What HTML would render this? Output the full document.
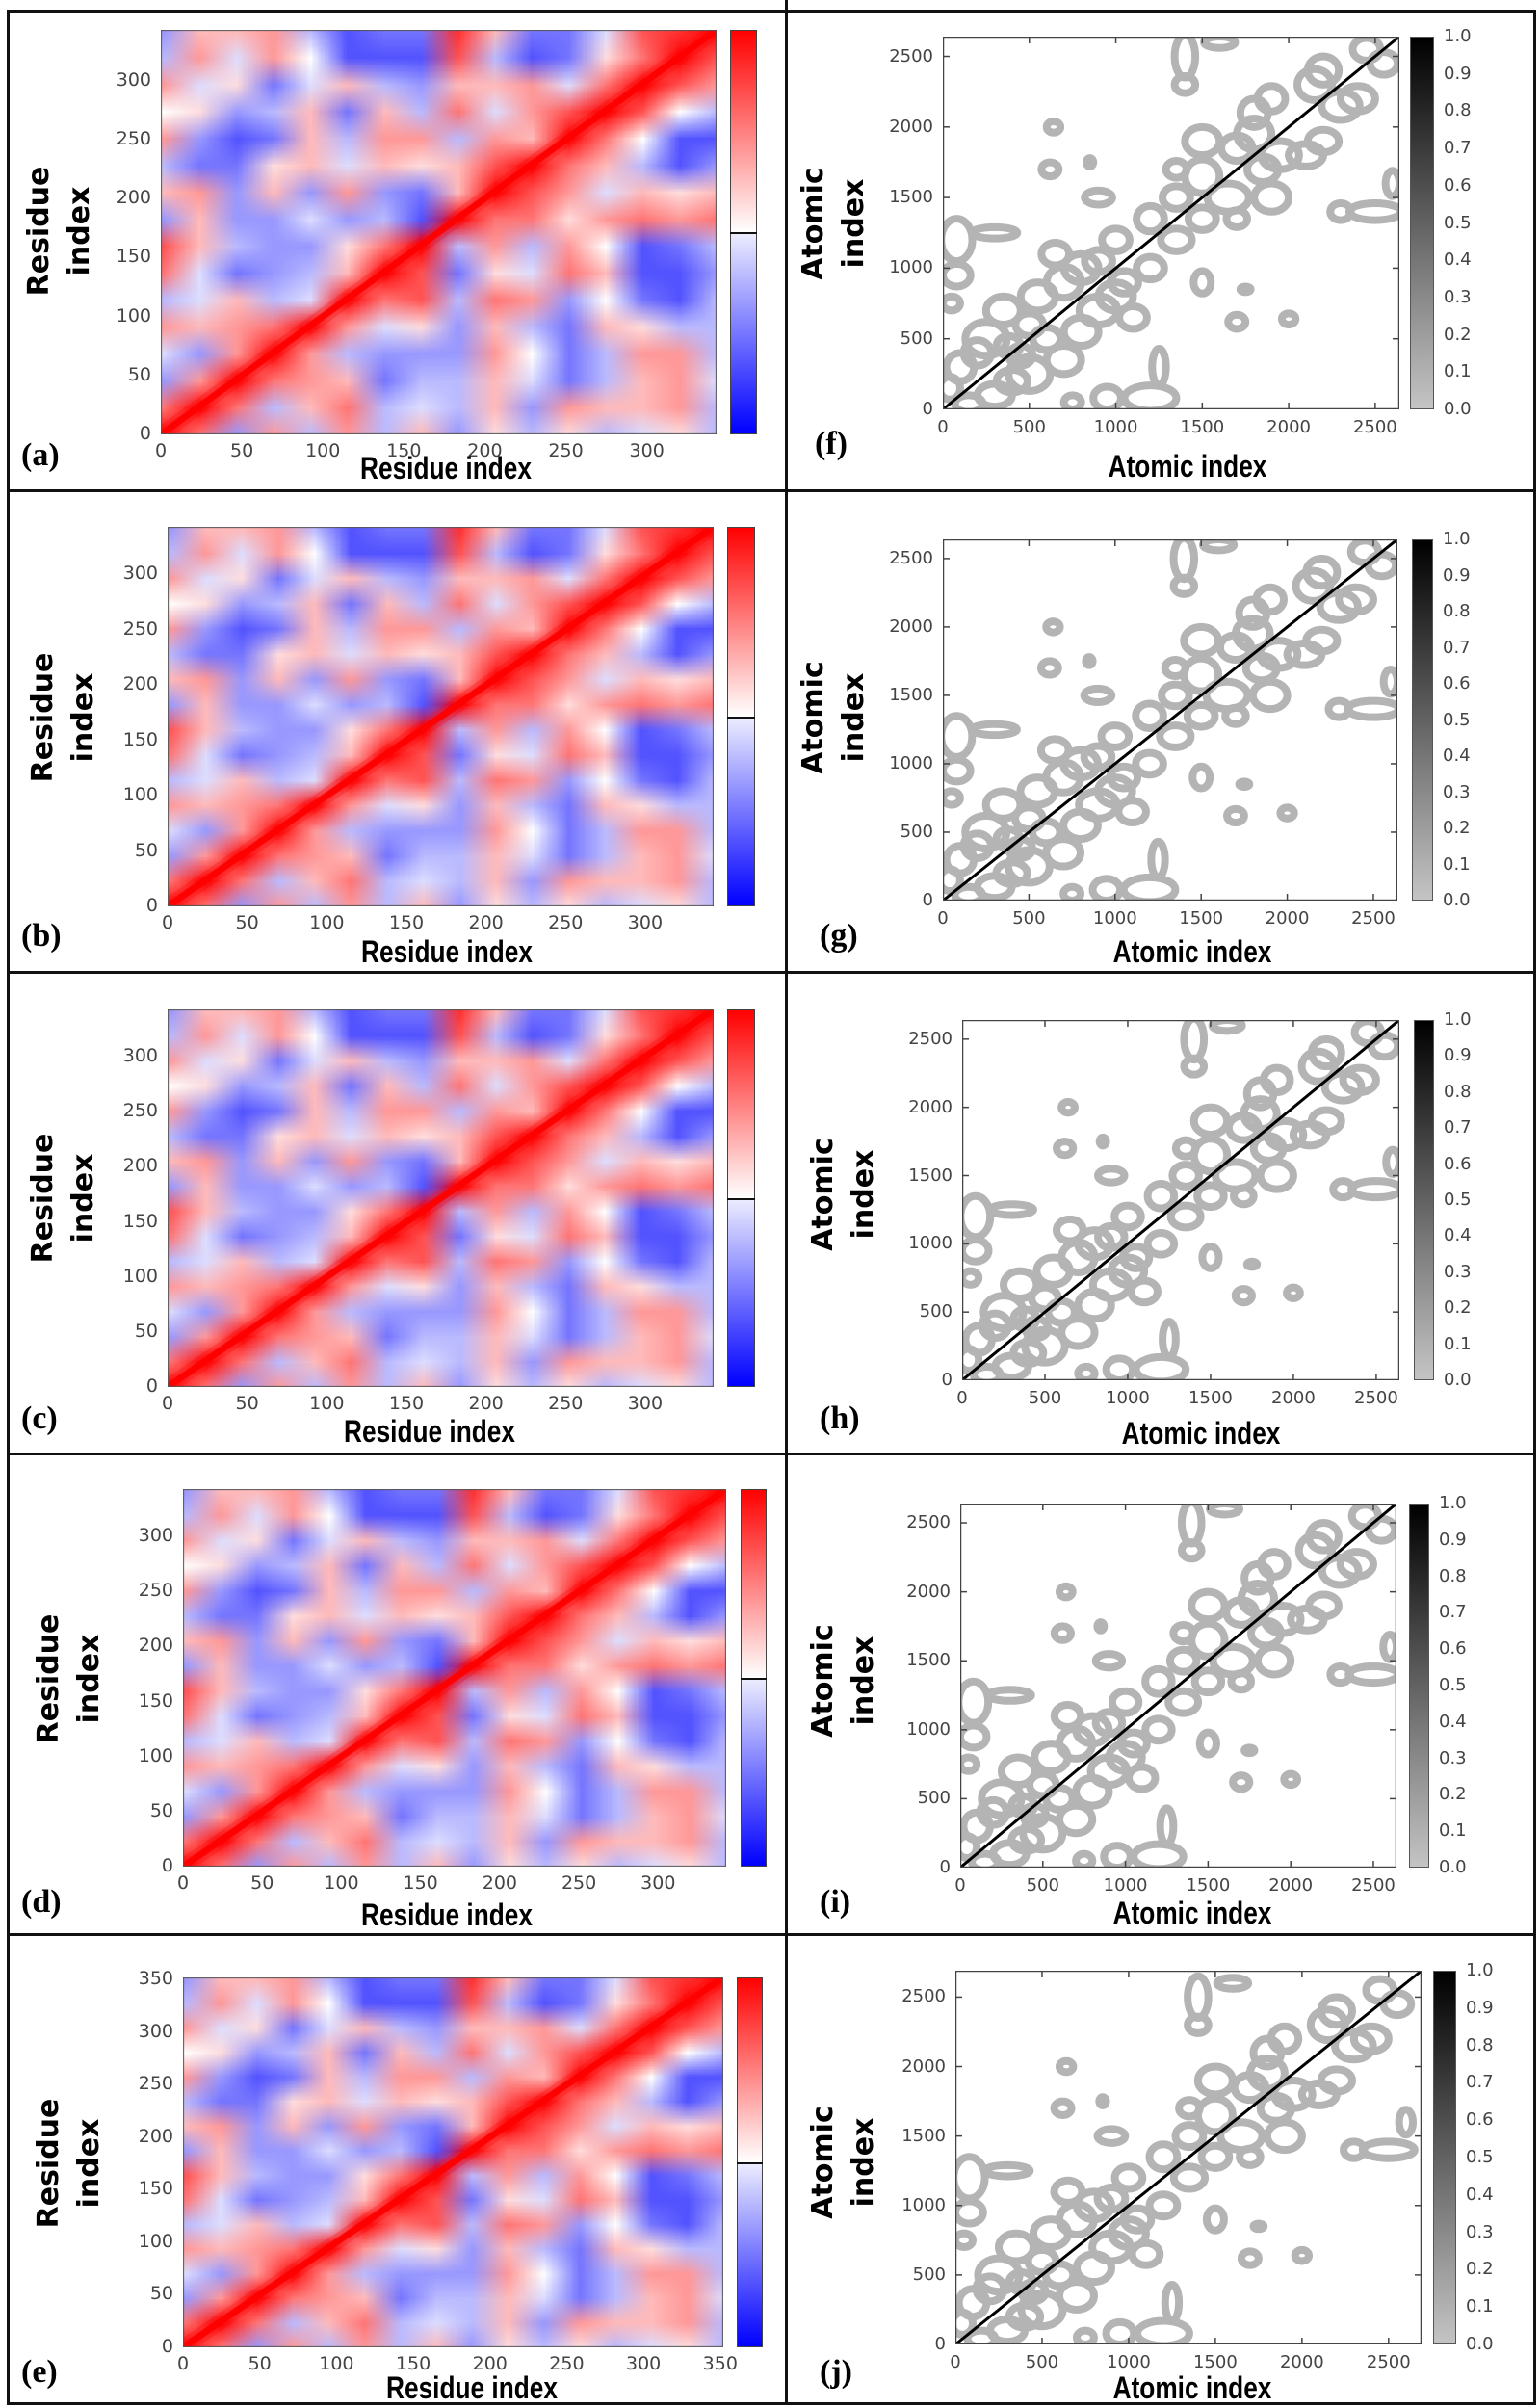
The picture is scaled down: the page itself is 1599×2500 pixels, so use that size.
<!DOCTYPE html>
<html><head><meta charset="utf-8">
<style>
html,body{margin:0;padding:0;background:#fff}
#root{position:relative;width:1599px;height:2500px;overflow:hidden;background:#fff}
.ln{position:absolute;background:#111}
.t{position:absolute;white-space:nowrap}
canvas,svg{position:absolute}
</style></head>
<body>
<div id="root"></div>
<script>
// ===== data =====
// coarse 16x16 cross-correlation map (rows: top = high residue index, cols: left = low residue index)
const corrRows = [
[-0.3,0.2,0.2,0.3,-0.2,-0.5,-0.4,-0.4,0.6,0.2,-0.4,-0.4,-0.1,0.5,0.6,0.9],
[-0.2,0.3,-0.1,0.3,0.0,-0.5,-0.5,-0.5,0.5,-0.2,-0.5,-0.4,0.1,0.4,0.8,0.5],
[0.3,-0.1,0.1,-0.4,-0.1,0.2,-0.2,-0.3,0.2,0.2,0.3,-0.1,0.4,0.8,0.5,0.3],
[0.0,0.1,-0.3,-0.2,0.2,-0.4,0.2,-0.2,0.4,-0.1,0.3,0.5,0.8,0.5,0.0,-0.2],
[0.3,-0.3,-0.5,-0.4,0.2,-0.2,0.3,0.3,-0.2,0.3,0.2,0.8,0.4,0.0,-0.5,-0.5],
[-0.2,-0.4,-0.4,0.1,0.2,-0.1,0.2,0.1,0.2,0.5,0.8,0.4,0.2,-0.2,-0.5,-0.3],
[0.2,0.3,-0.3,0.2,-0.3,0.3,-0.3,-0.4,0.2,0.8,0.5,0.3,-0.1,0.2,0.1,0.2],
[-0.3,0.2,-0.3,-0.3,-0.1,-0.3,-0.2,-0.5,0.8,0.4,0.4,0.1,0.3,0.4,0.3,0.4],
[0.5,0.2,-0.2,-0.3,-0.3,0.1,0.4,0.8,-0.2,0.3,-0.2,0.3,0.0,-0.5,-0.4,-0.2],
[0.4,-0.1,-0.4,-0.3,-0.2,0.2,0.8,0.5,-0.4,0.1,-0.1,0.4,0.2,-0.5,-0.5,-0.3],
[-0.2,-0.1,0.2,-0.2,-0.1,0.8,0.4,0.5,-0.2,0.4,0.3,-0.3,0.0,-0.4,-0.5,-0.2],
[0.3,0.2,0.3,0.4,0.8,0.3,-0.1,0.1,-0.3,0.2,-0.2,-0.4,0.2,0.1,-0.2,-0.2],
[-0.1,-0.3,0.3,0.8,0.3,-0.2,-0.3,-0.3,-0.3,0.3,0.0,-0.4,-0.2,0.3,0.3,-0.2],
[-0.3,0.3,0.8,0.4,0.3,0.2,-0.4,-0.2,-0.2,0.2,-0.1,-0.4,-0.2,0.2,0.3,-0.1],
[0.4,0.8,0.4,-0.2,0.2,0.4,-0.2,-0.1,-0.2,0.2,-0.3,0.3,0.2,0.2,0.3,-0.2],
[0.9,0.4,-0.3,0.3,-0.2,0.3,-0.2,0.2,-0.3,0.1,-0.2,0.1,-0.2,-0.1,0.1,-0.2]
];
const residueTicks = [0,50,100,150,200,250,300];
const residueTicksE = [0,50,100,150,200,250,300,350];
// contact blobs (x atom, y atom, rx, ry) on one side of the diagonal; mirrored
const blobX  = [1200,950,750,1250,300,500,700,800,600,1000,1200,1100,1500,1700,1900,2100,2200,2300,2500,2600,2400,2550,1500,1700,2000,1750,150,400,900,1350,1650,1950,2300,450,1050,1850];
const blobY  = [80,80,50,300,100,250,350,550,500,800,1000,650,1350,1350,1500,1800,1900,1400,1400,1600,2200,2450,900,620,640,850,40,200,700,1200,1500,1800,2150,380,900,1700];
const blobRX = [150,80,50,40,100,120,100,100,80,100,80,80,80,60,100,100,90,60,150,40,100,80,50,50,40,30,80,90,110,90,120,110,110,70,80,90];
const blobRY = [90,80,50,130,80,120,100,100,80,100,80,80,80,60,100,80,80,60,60,90,90,80,80,50,40,20,60,80,100,80,100,100,100,70,80,90];
const atomTicks = [0,500,1000,1500,2000,2500];
const cbTicks = [0.0,0.1,0.2,0.3,0.4,0.5,0.6,0.7,0.8,0.9,1.0];

const root = document.getElementById('root');
const SVGNS='http://www.w3.org/2000/svg';

function line(x,y,w,h,name){
  const d=document.createElement('div');d.className='ln';
  d.style.left=x+'px';d.style.top=y+'px';d.style.width=w+'px';d.style.height=h+'px';
  
  
  root.appendChild(d);
}
function text(str,x,y,css,name,anchor){
  const d=document.createElement('div');d.className='t';d.textContent=str;
  d.style.cssText+=css;
  d.style.left=x+'px';d.style.top=y+'px';
  if(anchor) d.style.transform=anchor;
  
  
  root.appendChild(d);
  return d;
}
// frame
line(7,10,3,2487,'frame-left');line(1592,10,3,2487,'frame-right');
line(7,10,1588,3,'frame-top');line(7,2494,1588,3,'frame-bottom');
line(815,0,3,2497,'column-divider');
[508,1008,1508,2007].forEach((y,i)=>line(7,y,1588,3,'row-divider'));

function colorOf(v){
  const t=Math.min(1,Math.abs(v)*1.35);
  if(v>=0) return [255,Math.round(255*(1-t)),Math.round(255*(1-t))];
  return [Math.round(255*(1-t)),Math.round(255*(1-t)),255];
}

function corrPanel(p){
  const w=p.x1-p.x0,h=p.y1-p.y0;
  const xs=v=>p.x0+v/p.N*w, ys=v=>p.y1-v/p.N*h;
  const cv=document.createElement('canvas');cv.width=w;cv.height=h;
  cv.style.left=p.x0+'px';cv.style.top=p.y0+'px';
  
  
  root.appendChild(cv);
  const ctx=cv.getContext('2d');
  const n=corrRows.length;
  const off=document.createElement('canvas');off.width=n;off.height=n;
  const oc=off.getContext('2d');const img=oc.createImageData(n,n);
  for(let r=0;r<n;r++)for(let c=0;c<n;c++){
    const col=colorOf(corrRows[r][c]);const k=(r*n+c)*4;
    img.data[k]=col[0];img.data[k+1]=col[1];img.data[k+2]=col[2];img.data[k+3]=255;
  }
  oc.putImageData(img,0,0);
  ctx.imageSmoothingEnabled=true;
  ctx.drawImage(off,-w/n/2,-h/n/2,w+w/n,h+h/n);
  // diagonal (self correlation = 1)
  ctx.strokeStyle='rgba(255,0,0,0.3)';ctx.lineWidth=16;
  ctx.beginPath();ctx.moveTo(xs(0)-p.x0,ys(0)-p.y0);ctx.lineTo(xs(p.N)-p.x0,ys(p.N)-p.y0);ctx.stroke();
  ctx.strokeStyle='#ff0000';ctx.lineWidth=7;
  ctx.beginPath();ctx.moveTo(xs(0)-p.x0,ys(0)-p.y0);ctx.lineTo(xs(p.N)-p.x0,ys(p.N)-p.y0);ctx.stroke();
  ctx.strokeStyle='#555';ctx.lineWidth=2;ctx.strokeRect(0,0,w,h);
  // colorbar
  const cb=document.createElement('div');
  cb.style.cssText=`position:absolute;left:${p.c0}px;top:${p.y0}px;width:${p.c1-p.c0}px;height:${h}px;border:1px solid #444;box-sizing:border-box;background:linear-gradient(#ff0000,#ffffff 50%,#eeeeff 50%,#0000ff)`;
  
  
  root.appendChild(cb);
  line(p.c0,p.y0+h/2,p.c1-p.c0,2,'colorbar-midline');
  const ticks=p.ticks;
  ticks.forEach(v=>{
    text(String(v),p.x0-10,ys(v)-12,'font:19px "DejaVu Sans",sans-serif;color:#444;','y-tick-label','translateX(-100%)');
    text(String(v),xs(v),p.y1+6,'font:19px "DejaVu Sans",sans-serif;color:#444;','x-tick-label','translateX(-50%)');
  });
  text('Residue index',p.tx,p.ty-30,'font:bold 32px "Liberation Sans",sans-serif;color:#000;','x-axis-title','translateX(-50%) scaleX(0.82)');
  text('Residue\nindex',p.yx,p.yy,'font:bold 30px "DejaVu Sans",sans-serif;color:#000;white-space:pre;text-align:center;line-height:42px;','y-axis-title','translate(-50%,-50%) rotate(-90deg)');
  text('('+p.id+')',p.lx,p.ly-34,'font:bold 34px "Liberation Serif",serif;color:#000;','panel-label-'+p.id);
}

function contactPanel(p){
  const w=p.x1-p.x0,h=p.y1-p.y0;
  const xs=v=>v/p.N*w, ys=v=>h-v/p.N*h;
  const svg=document.createElementNS(SVGNS,'svg');
  svg.setAttribute('width',w);svg.setAttribute('height',h);
  svg.style.left=p.x0+'px';svg.style.top=p.y0+'px';
  
  
  root.appendChild(svg);
  for(let i=0;i<blobX.length;i++){
    for(let m=0;m<2;m++){
      const e=document.createElementNS(SVGNS,'ellipse');
      const bx=m?blobY[i]:blobX[i], by=m?blobX[i]:blobY[i];
      const rx=m?blobRY[i]:blobRX[i], ry=m?blobRX[i]:blobRY[i];
      e.setAttribute('cx',xs(bx));e.setAttribute('cy',ys(by));
      e.setAttribute('rx',rx/p.N*w);e.setAttribute('ry',ry/p.N*h);
      e.setAttribute('fill','none');e.setAttribute('stroke','#b4b4b4');e.setAttribute('stroke-width','8');
      
      
      svg.appendChild(e);
    }
  }
  const dl=document.createElementNS(SVGNS,'line');
  dl.setAttribute('x1',xs(0));dl.setAttribute('y1',ys(0));dl.setAttribute('x2',xs(p.N));dl.setAttribute('y2',ys(p.N));
  dl.setAttribute('stroke','#000');dl.setAttribute('stroke-width','3');
  
  
  svg.appendChild(dl);
  const fr=document.createElementNS(SVGNS,'rect');
  fr.setAttribute('x',0.5);fr.setAttribute('y',0.5);fr.setAttribute('width',w-1);fr.setAttribute('height',h-1);
  fr.setAttribute('fill','none');fr.setAttribute('stroke','#444');fr.setAttribute('stroke-width','1.5');
  
  
  svg.appendChild(fr);
  atomTicks.forEach(v=>{
    [[xs(v),h,xs(v),h-7],[xs(v),0,xs(v),7],[0,ys(v),7,ys(v)],[w,ys(v),w-7,ys(v)]].forEach(c=>{
      const t=document.createElementNS(SVGNS,'line');
      t.setAttribute('x1',c[0]);t.setAttribute('y1',c[1]);t.setAttribute('x2',c[2]);t.setAttribute('y2',c[3]);
      t.setAttribute('stroke','#444');t.setAttribute('stroke-width','1.5');
      
      
      svg.appendChild(t);
    });
    text(String(v),p.x0-10,p.y0+ys(v)-11,'font:18px "DejaVu Sans",sans-serif;color:#444;','y-tick-label','translateX(-100%)');
    text(String(v),p.x0+xs(v),p.y1+8,'font:18px "DejaVu Sans",sans-serif;color:#444;','x-tick-label','translateX(-50%)');
  });
  const cb=document.createElement('div');
  cb.style.cssText=`position:absolute;left:${p.c0}px;top:${p.y0}px;width:${p.c1-p.c0}px;height:${h}px;border:1px solid #555;box-sizing:border-box;background:linear-gradient(#000,#c4c4c4)`;
  
  
  root.appendChild(cb);
  cbTicks.forEach(v=>{
    const y=p.y1-v*h;
    text(v.toFixed(1),p.c1+10,y-11,'font:18px "DejaVu Sans",sans-serif;color:#444;','colorbar-tick-label');
  });
  text('Atomic index',p.tx,p.ty-30,'font:bold 32px "Liberation Sans",sans-serif;color:#000;','x-axis-title','translateX(-50%) scaleX(0.82)');
  text('Atomic\nindex',p.yx,p.yy,'font:bold 30px "DejaVu Sans",sans-serif;color:#000;white-space:pre;text-align:center;line-height:42px;','y-axis-title','translate(-50%,-50%) rotate(-90deg)');
  text('('+p.id+')',p.lx,p.ly-34,'font:bold 34px "Liberation Serif",serif;color:#000;','panel-label-'+p.id);
}

const leftPanels=[
 {id:'a',x0:167,y0:31,x1:744,y1:451,c0:758,c1:786,N:343,ticks:residueTicks,tx:463,ty:498,yx:62,yy:240,lx:22,ly:488},
 {id:'b',x0:174,y0:547,x1:741,y1:941,c0:755,c1:784,N:343,ticks:residueTicks,tx:464,ty:1000,yx:66,yy:745,lx:22,ly:987},
 {id:'c',x0:174,y0:1048,x1:741,y1:1440,c0:755,c1:784,N:343,ticks:residueTicks,tx:446,ty:1498,yx:66,yy:1244,lx:22,ly:1488},
 {id:'d',x0:190,y0:1546,x1:754,y1:1938,c0:769,c1:796,N:343,ticks:residueTicks,tx:464,ty:2000,yx:72,yy:1743,lx:22,ly:1990},
 {id:'e',x0:190,y0:2053,x1:751,y1:2437,c0:765,c1:792,N:352,ticks:residueTicksE,tx:490,ty:2491,yx:72,yy:2246,lx:22,ly:2478}
];
const rightPanels=[
 {id:'f',x0:979,y0:38,x1:1453,y1:425,c0:1464,c1:1489,N:2640,tx:1233,ty:496,yx:866,yy:232,lx:846,ly:476},
 {id:'g',x0:979,y0:560,x1:1451,y1:935,c0:1466,c1:1488,N:2640,tx:1238,ty:1000,yx:866,yy:745,lx:851,ly:987},
 {id:'h',x0:999,y0:1059,x1:1453,y1:1433,c0:1468,c1:1489,N:2640,tx:1247,ty:1500,yx:876,yy:1240,lx:851,ly:1488},
 {id:'i',x0:997,y0:1561,x1:1450,y1:1939,c0:1463,c1:1484,N:2640,tx:1238,ty:1998,yx:876,yy:1745,lx:851,ly:1990},
 {id:'j',x0:992,y0:2046,x1:1476,y1:2434,c0:1488,c1:1512,N:2690,tx:1238,ty:2491,yx:876,yy:2245,lx:851,ly:2478}
];
leftPanels.forEach(corrPanel);
rightPanels.forEach(contactPanel);
</script>
</body></html>
